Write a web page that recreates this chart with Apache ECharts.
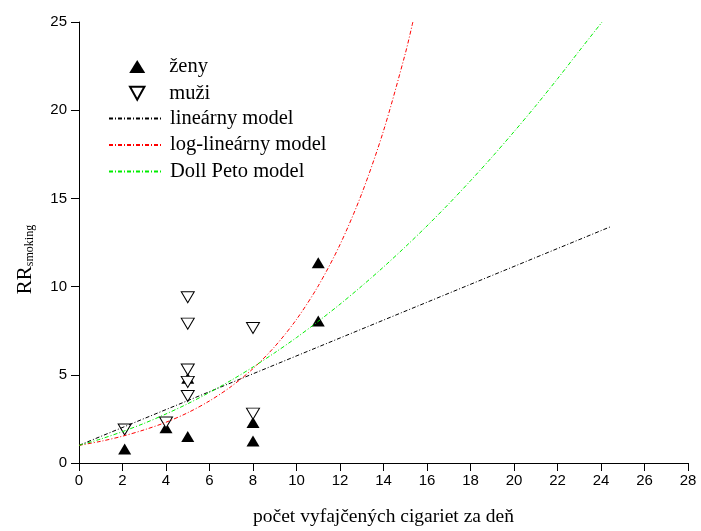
<!DOCTYPE html>
<html><head><meta charset="utf-8">
<script src="https://cdn.jsdelivr.net/npm/echarts@6/dist/echarts.min.js"></script>
<style>html,body{margin:0;padding:0;background:#fff}#c{width:701px;height:531px}</style>
</head><body><div id="c"></div>
<script>
// ženy (filled triangles)
const zenyX = [2.1, 4, 5, 5, 8, 8, 11, 11];
const zenyY = [0.8, 2.0, 1.5, 4.8, 1.25, 2.3, 11.35, 8.05];
// muži (open inverted triangles)
const muziX = [2.1, 4, 5, 5, 5, 5, 5, 8, 8];
const muziY = [1.9, 2.3, 9.4, 7.9, 5.3, 4.6, 3.8, 7.65, 2.8];
// lineárny model
const linX = [0, 24.45];
const linY = [1.0, 13.4];
// log-lineárny model
const logX = [0, 1, 2, 3, 4, 5, 6, 7, 8, 9, 10, 11, 12, 13, 14, 15, 15.35];
const logY = [1.0, 1.23, 1.52, 1.88, 2.31, 2.85, 3.52, 4.34, 5.35, 6.6, 8.14, 10.04, 12.38, 15.27, 18.83, 23.2, 25.0];
// Doll Peto model
const dpX = [0, 1, 2, 3, 4, 5, 6, 7, 8, 9, 10, 11, 12, 13, 14, 15, 16, 17, 18, 19, 20, 21, 22, 23, 24.05];
const dpY = [1.0, 1.36, 1.78, 2.25, 2.78, 3.36, 4.0, 4.69, 5.44, 6.25, 7.11, 8.03, 9.0, 10.03, 11.11, 12.25, 13.44, 14.69, 16.0, 17.36, 18.78, 20.25, 21.78, 23.36, 25.0];
const xTicks = [0, 28, 2];
const yTicks = [0, 25, 5];

const zip = (a, b) => a.map((v, i) => [v, b[i]]);
const dash = [4, 2, 1, 2];
const chart = echarts.init(document.getElementById('c'));
chart.setOption({
  animation: false,
  backgroundColor: '#fff',
  grid: { left: 79, right: 13, top: 22, bottom: 68, containLabel: false, outerBoundsMode: 'none' },
  xAxis: {
    type: 'value', min: xTicks[0], max: xTicks[1], interval: xTicks[2],
    splitLine: { show: false },
    axisLine: { lineStyle: { color: '#000', width: 1 } },
    axisTick: { length: 8, lineStyle: { color: '#000' } },
    axisLabel: { color: '#000', fontFamily: 'Liberation Sans', fontSize: 15, margin: 10 },
    name: 'počet vyfajčených cigariet za deň', nameLocation: 'middle', nameGap: 44,
    nameTextStyle: { color: '#000', fontFamily: 'Liberation Serif', fontSize: 19.5 }
  },
  yAxis: {
    type: 'value', min: yTicks[0], max: yTicks[1], interval: yTicks[2],
    splitLine: { show: false },
    axisLine: { show: true, lineStyle: { color: '#000', width: 1 } },
    axisTick: { show: true, length: 8, lineStyle: { color: '#000' } },
    axisLabel: { color: '#000', fontFamily: 'Liberation Sans', fontSize: 15, margin: 12 },
    name: '{a|RR}{b|smoking}', nameLocation: 'middle', nameGap: 43, nameRotate: 90,
    nameTextStyle: {
      color: '#000', padding: [0, 34, 0, 0],
      rich: {
        a: { fontFamily: 'Liberation Serif', fontSize: 21, color: '#000' },
        b: { fontFamily: 'Liberation Serif', fontSize: 12, color: '#000', verticalAlign: 'bottom', padding: [7, 0, 0, 0] }
      }
    }
  },
  legend: [
    {
      data: ['ženy', 'muži'], orient: 'vertical', left: 129, top: 56, padding: 0,
      itemWidth: 16, itemHeight: 13, itemGap: 5.7,
      textStyle: { fontFamily: 'Liberation Serif', fontSize: 20.5, color: '#000', lineHeight: 20, padding: [0, 0, 0, 19] }
    },
    {
      data: ['lineárny model', 'log-lineárny model', 'Doll Peto model'], orient: 'vertical', left: 108, top: 108, padding: 0,
      itemWidth: 52, itemHeight: 14, itemGap: 5.5,
      itemStyle: { opacity: 0 },
      textStyle: { fontFamily: 'Liberation Serif', fontSize: 20.5, color: '#000', lineHeight: 20, padding: [0, 0, 0, 4] }
    }
  ],
  series: [
    { name: 'ženy', type: 'scatter', data: zip(zenyX, zenyY), symbol: 'triangle', symbolSize: [13, 11],
      itemStyle: { color: '#000', opacity: 1 }, z: 2 },
    { name: 'muži', type: 'scatter', data: zip(muziX, muziY), symbol: 'path://M0,0L10,0L5,9Z', symbolSize: [13, 11],
      itemStyle: { color: '#fff', borderColor: '#000', borderWidth: 1, opacity: 1 }, z: 3 },
    { name: 'lineárny model', type: 'line', data: zip(linX, linY), showSymbol: false, symbol: 'none',
      lineStyle: { color: '#000', width: 1, type: dash }, itemStyle: { color: '#000' }, z: 4 },
    { name: 'log-lineárny model', type: 'line', data: zip(logX, logY), showSymbol: false, symbol: 'none', smooth: 0.3,
      lineStyle: { color: '#ff0000', width: 1, type: dash }, itemStyle: { color: '#ff0000' }, z: 4 },
    { name: 'Doll Peto model', type: 'line', data: zip(dpX, dpY), showSymbol: false, symbol: 'none', smooth: 0.3,
      lineStyle: { color: '#00ee00', width: 1, type: dash }, itemStyle: { color: '#00ee00' }, z: 4 }
  ]
});
</script></body></html>
